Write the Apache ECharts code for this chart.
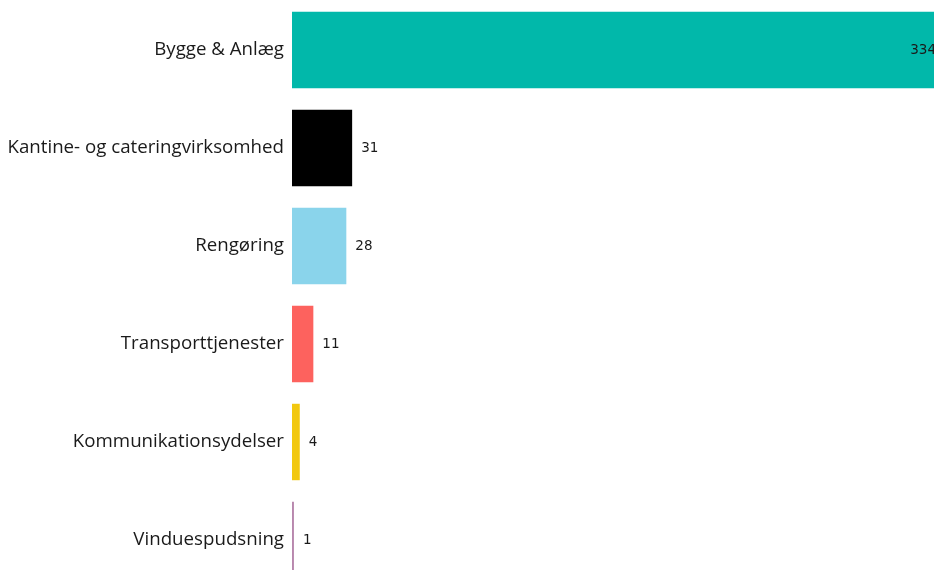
<!DOCTYPE html>
<html><head><meta charset="utf-8">
<script src="https://cdn.jsdelivr.net/npm/echarts@6/dist/echarts.min.js"></script>
<style>html,body{margin:0;padding:0;background:#fff;}#c{width:934px;height:570px;}</style>
</head><body><div id="c"></div>
<script>
const categories = ["Bygge & Anlæg","Kantine- og cateringvirksomhed","Rengøring","Transporttjenester","Kommunikationsydelser","Vinduespudsning"];
const values = [334, 31, 28, 11, 4, 1];
const barColors = ["#01B8AA","#000000","#8AD4EB","#FD625E","#F2C80F","#B887AD"];

const maxVal = Math.max(...values);
const chart = echarts.init(document.getElementById('c'), null, {renderer:'canvas'});
chart.setOption({
  animation: false,
  color: barColors,
  grid: {left: 292, right: -6, top: 1, height: 588, containLabel: false, outerBoundsMode: 'none'},
  xAxis: {type:'value', min:0, max:maxVal, show:false},
  yAxis: {
    type:'category', data: categories, inverse: true,
    axisLine:{show:false}, axisTick:{show:false},
    axisLabel:{margin: 8, fontFamily:'Open Sans', fontSize: 18.7, color:'#1a1a1a'}
  },
  series: [{
    type:'bar', colorBy:'data', barCategoryGap:'22%',
    data: values.map(v => v > maxVal*0.5 ? {value:v, label:{position:'insideRight', distance:4}} : v),
    label:{show:true, position:'right', distance:9, fontFamily:'DejaVu Sans', fontSize:13.5, color:'#1a1a1a'}
  }]
});
</script></body></html>
